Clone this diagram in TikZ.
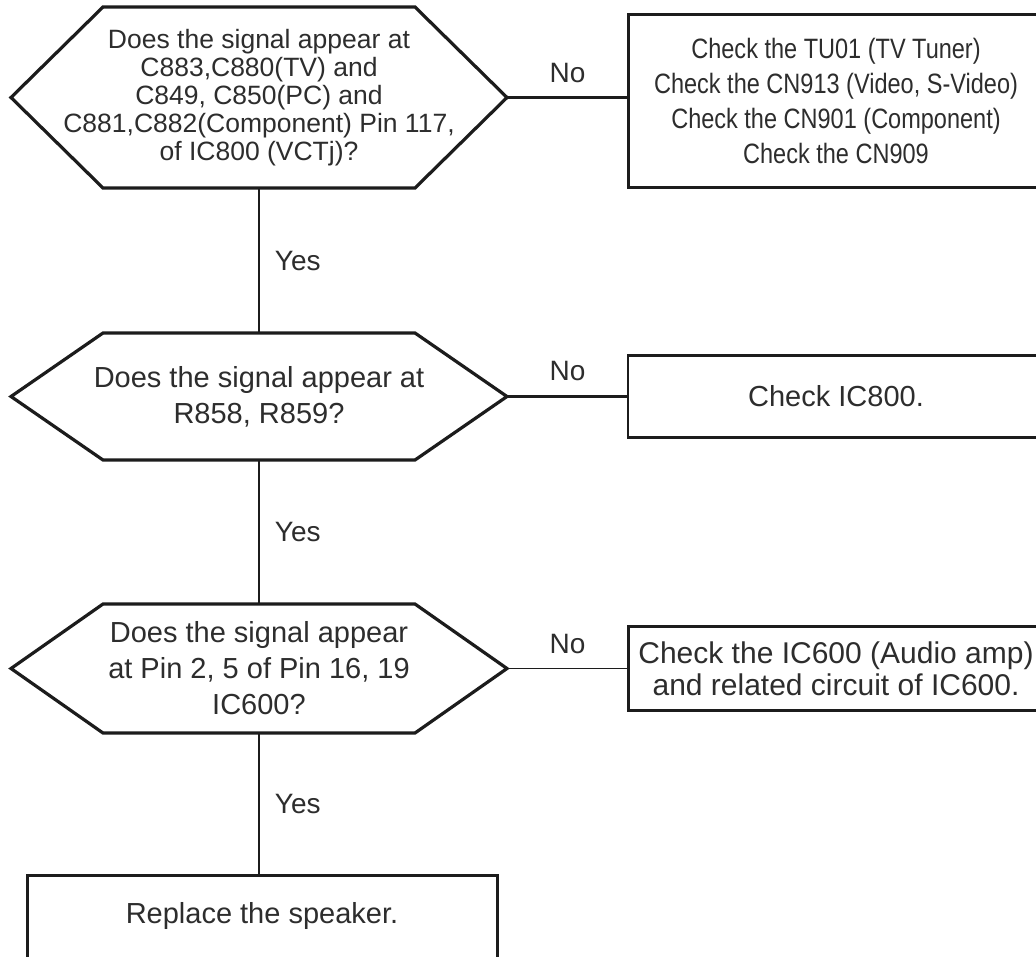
\documentclass[tikz,border=0pt]{standalone}
\usepackage{fontspec}
\setmainfont{Liberation Sans}
\newfontfamily\narrowsans[FakeStretch=0.84]{Liberation Sans}
\usetikzlibrary{positioning}
\definecolor{chartLine}{RGB}{28,28,28}
\definecolor{chartText}{RGB}{45,45,45}

\begin{document}
\begin{tikzpicture}[
        x=1pt, y=-1pt,
        decision/.style={rectangle, minimum width=312pt, align=center, inner xsep=-60pt, inner ysep=0pt, outer sep=0pt, text=chartText, font=\fontsize{29}{36}\selectfont},
        hexline/.style={draw=chartLine, line width=3.2pt},
        check/.style={rectangle, draw=chartLine, line width=3pt, minimum width=416pt, align=center, inner sep=0pt, outer sep=0pt, text=chartText, font=\fontsize{29}{33}\selectfont},
        link/.style={draw=chartLine, line width=1.8pt},
        answer/.style={inner sep=2pt, text=chartText, font=\fontsize{28}{30}\selectfont}
    ]
        \path[use as bounding box, fill=white] (0,0) rectangle (1036,956);

        % Questions
        \node[decision, minimum height=181pt, font=\fontsize{26.5}{28}\selectfont] (q1) at (259,97.5) {Does the signal appear at\\C883,C880(TV) and\\C849, C850(PC) and\\C881,C882(Component) Pin 117,\\of IC800 (VCTj)?};
        \node[decision, minimum height=127pt, below=145pt of q1] (q2) {Does the signal appear at\\R858, R859?};
        \node[decision, minimum height=129pt, below=144pt of q2] (q3) {Does the signal appear\\at Pin 2, 5 of Pin 16, 19\\IC600?};

        % Hexagon outlines
        \foreach \q in {q1,q2,q3}{
            \draw[hexline] (\q.north west) -- (\q.north east) -- ([xshift=92pt]\q.east) -- (\q.south east)
                -- (\q.south west) -- ([xshift=-92pt]\q.west) -- cycle;
            \coordinate (\q-tip) at ([xshift=92pt]\q.east);
        }

        % Checks
        \node[check, minimum height=173pt, right=213pt of q1, yshift=-3pt, font=\narrowsans\fontsize{28}{35}\selectfont] (c1) {Check the TU01 (TV Tuner)\\Check the CN913 (Video, S-Video)\\Check the CN901 (Component)\\Check the CN909};
        \node[check, minimum height=82pt, right=213pt of q2, line width=2.2pt] (c2) {Check IC800.};
        \node[check, minimum height=84pt, right=213pt of q3, font=\fontsize{30}{32}\selectfont] (c3) {Check the IC600 (Audio amp)\\and related circuit of IC600.};

        % Result
        \node[check, minimum width=470pt, minimum height=100pt, text depth=24pt, below=142pt of q3, xshift=3pt] (fix) {Replace the speaker.};

        \draw[link] (q1.south) -- node[answer, right=13pt] {Yes} (q2.north);
        \draw[link] (q2.south) -- node[answer, right=13pt] {Yes} (q3.north);
        \draw[link] (q3.south) -- node[answer, right=13pt] {Yes} (q3.south |- fix.north);
        \draw[link, line width=2.4pt] (q1-tip) -- node[answer, above=12pt] {No} (q1-tip -| c1.west);
        \draw[link, line width=3pt] (q2-tip) -- node[answer, above=12pt] {No} (q2-tip -| c2.west);
        \draw[link] (q3-tip) -- node[answer, above=12pt] {No} (q3-tip -| c3.west);
    \end{tikzpicture}
\end{document}
